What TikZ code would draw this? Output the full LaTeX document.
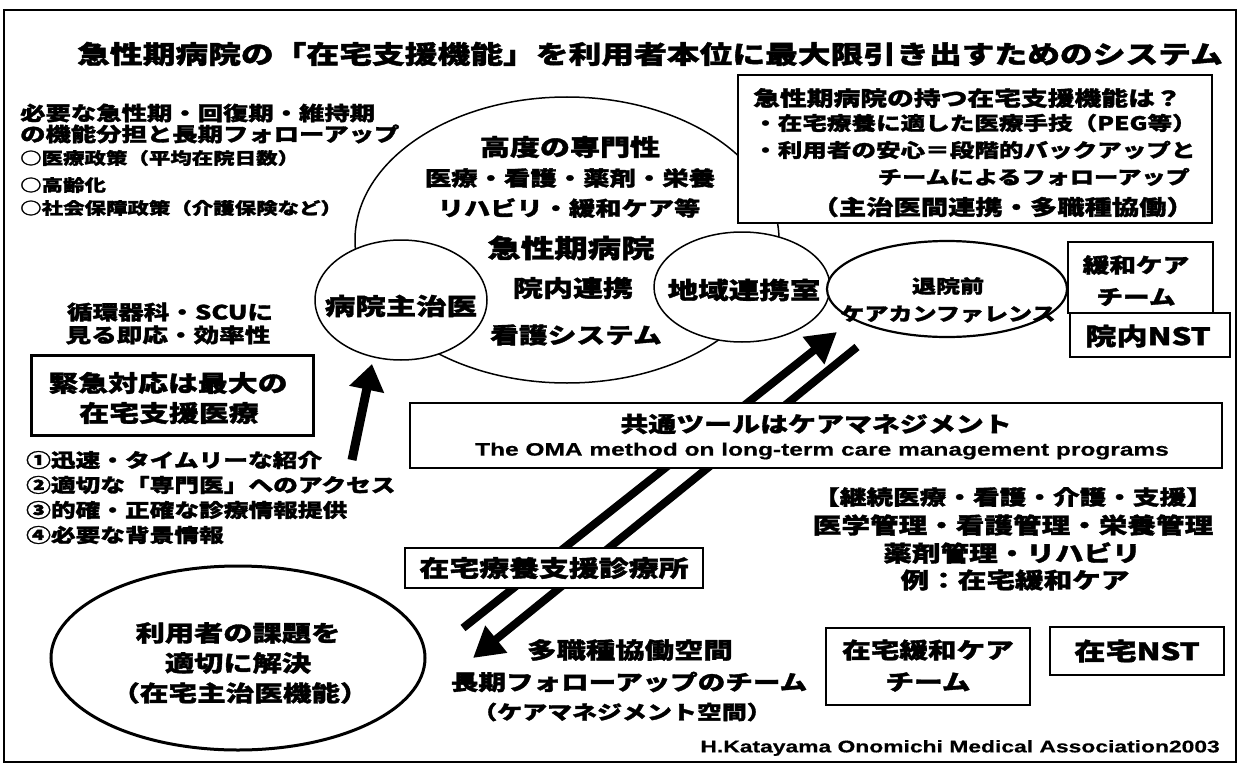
\documentclass[tikz,border=0pt]{standalone}
\usepackage{fontspec}
\setmainfont{Noto Sans CJK JP}[FakeStretch=1.3, FakeBold=1.6]
\newfontfamily\latn{Liberation Sans}[FakeStretch=1.36, FakeBold=0.6]
\usetikzlibrary{shapes.geometric,arrows.meta}
\newcommand\jfs[1]{\fontsize{#1}{#1}\selectfont}
\tikzset{
  j/.style={inner sep=0pt, font=\bfseries\jfs{#1}},
  jw/.style={j=#1, anchor=west},
  je/.style={j=#1, anchor=east},
  en/.style={inner sep=0pt, font=\latn\bfseries\jfs{#1}},
  bx/.style={draw, line width=1.6pt, fill=white, rectangle, inner sep=0pt},
  el/.style={draw, ellipse, line width=1.5pt, fill=white, inner sep=0pt},
  fat/.style={line width=8pt, -{Triangle[length=30pt,width=33pt]}},
}
\begin{document}
\begin{tikzpicture}[x=1pt,y=-1pt]
\path[use as bounding box, fill=white] (0,0) rectangle (1241,765);
\draw[line width=2.5pt] (4,10) rectangle (1236,762);

% title
\node[j=25.2] (title) at (650,54) {急性期病院の「在宅支援機能」を利用者本位に最大限引き出すためのシステム};

% top-left text
\node[jw=19.5] (l1) at (20,113) {必要な急性期・回復期・維持期};
\node[jw=19.5] (l2) at (20,134) {の機能分担と長期フォローアップ};
\node[jw=16.5] (l3) at (20,158) {○医療政策（平均在院日数）};
\node[jw=16.5] (l4) at (20,185) {○高齢化};
\node[jw=16.5] (l5) at (20,208) {○社会保障政策（介護保険など）};

% big ellipse
\node[el, fill=none, minimum width=424pt, minimum height=286pt] (acute) at (567,240) {};

% top-right box
\node[bx, minimum width=474pt, minimum height=148pt] (trbox) at (975,149) {};
\node[jw=20.6] (r1) at (753,98) {急性期病院の持つ在宅支援機能は？};
\node[jw=18.9] (r2) at (753,123) {・在宅療養に適した医療手技（PEG等）};
\node[jw=18.9] (r3) at (753,150) {・利用者の安心＝段階的バックアップと};
\node[je=18.6] (r4) at (1190,177) {チームによるフォローアップ};
\node[je=21] (r5) at (1194,207) {（主治医間連携・多職種協働）};

% small ellipses
\node[el, minimum width=172pt, minimum height=120pt] (doc) at (401,300) {};
\node[j=23.4] (doct) at (401,306) {病院主治医};
\node[el, minimum width=176pt, minimum height=110pt] (chiiki) at (742,287) {};
\node[j=23.5] (chiikit) at (744,290) {地域連携室};
\node[el, line width=2.2pt, minimum width=240pt, minimum height=96pt] (conf) at (947,289) {};
\node[j=18.5] (conf1) at (948,286) {退院前};
\node[j=18.5] (conf2) at (948,314) {ケアカンファレンス};

% texts inside big ellipse
\node[j=23.1] (b1) at (570,147) {高度の専門性};
\node[j=20.3] (b2) at (570,178) {医療・看護・薬剤・栄養};
\node[j=20.2] (b3) at (569,208) {リハビリ・緩和ケア等};
\node[j=25.7] (b4) at (571,248) {急性期病院};
\node[j=23.1] (b5) at (573,288) {院内連携};
\node[j=22.1] (b6) at (576,335) {看護システム};

% right boxes
\node[bx, minimum width=145pt, minimum height=71pt] (kanwa) at (1140.5,277.5) {};
\node[j=20.5] (kanwa1) at (1136,265) {緩和ケア};
\node[j=20.5] (kanwa2) at (1136,297) {チーム};
\node[bx, line width=2.5pt, minimum width=160pt, minimum height=44pt] (nst) at (1150,335) {};
\node[j=24] (nstt) at (1148,336) {院内NST};

% left middle
\node[j=19.7] (m1) at (170,312) {循環器科・SCUに};
\node[j=19.7] (m2) at (168,335) {見る即応・効率性};
\node[bx, line width=3pt, minimum width=282pt, minimum height=80pt] (emg) at (172,395) {};
\node[j=23] (e1) at (168,383) {緊急対応は最大の};
\node[j=23] (e2) at (169,413) {在宅支援医療};
\node[jw=19] (q1) at (26,460) {①迅速・タイムリーな紹介};
\node[jw=19] (q2) at (26,485) {②適切な「専門医」へのアクセス};
\node[jw=19] (q3) at (26,510) {③的確・正確な診療情報提供};
\node[jw=19] (q4) at (26,535) {④必要な背景情報};

% arrows
\coordinate (a3s) at (352,460);
\coordinate (a3e) at (372,364);
\draw[line width=9pt, -{Triangle[length=26pt,width=34pt]}] (a3s) -- (a3e);
\coordinate (a1s) at (463,628);
\coordinate (a1e) at (837,332);
\coordinate (a2s) at (857,347);
\coordinate (a2e) at (473,658);
\draw[fat] (a1s) -- (a1e);
\draw[fat] (a2s) -- (a2e);

% common tool box
\node[bx, line width=1.4pt, minimum width=812pt, minimum height=65pt] (tool) at (816,435.5) {};
\node[j=21.5] (tool1) at (816,424) {共通ツールはケアマネジメント};
\node[en=18] (tool2) at (822,451) {The OMA method on long-term care management programs};

% right block
\node[j=20.5] (k1) at (1013,497) {【継続医療・看護・介護・支援】};
\node[j=22] (k2) at (1013,525) {医学管理・看護管理・栄養管理};
\node[j=22] (k3) at (1012,553) {薬剤管理・リハビリ};
\node[j=22] (k4) at (1015,580) {例：在宅緩和ケア};

% clinic box
\node[bx, line width=1.4pt, minimum width=298pt, minimum height=40pt] (clinic) at (554,568) {};
\node[j=23] (clinict) at (554,568) {在宅療養支援診療所};

% bottom-left ellipse
\node[el, line width=3pt, minimum width=374pt, minimum height=184pt] (home) at (238,658) {};
\node[j=22.5] (h1) at (238,633) {利用者の課題を};
\node[j=22.5] (h2) at (238,663) {適切に解決};
\node[j=22] (h3) at (240,693) {（在宅主治医機能）};

% team text
\node[j=22.6] (t1) at (630,650) {多職種協働空間};
\node[j=21.2] (t2) at (629,682) {長期フォローアップのチーム};
\node[j=19.2] (t3) at (622,712) {（ケアマネジメント空間）};

% bottom right boxes
\node[bx, minimum width=204pt, minimum height=77pt] (hkanwa) at (928,666.5) {};
\node[j=22] (hk1) at (928,650) {在宅緩和ケア};
\node[j=22] (hk2) at (928,682) {チーム};
\node[bx, minimum width=174pt, minimum height=48pt] (hnst) at (1137,651) {};
\node[j=24] (hnstt) at (1137,651) {在宅NST};

% footer
\node[en=16.8, anchor=east] (foot) at (1220,748) {H.Katayama Onomichi Medical Association2003};
\end{tikzpicture}
\end{document}
